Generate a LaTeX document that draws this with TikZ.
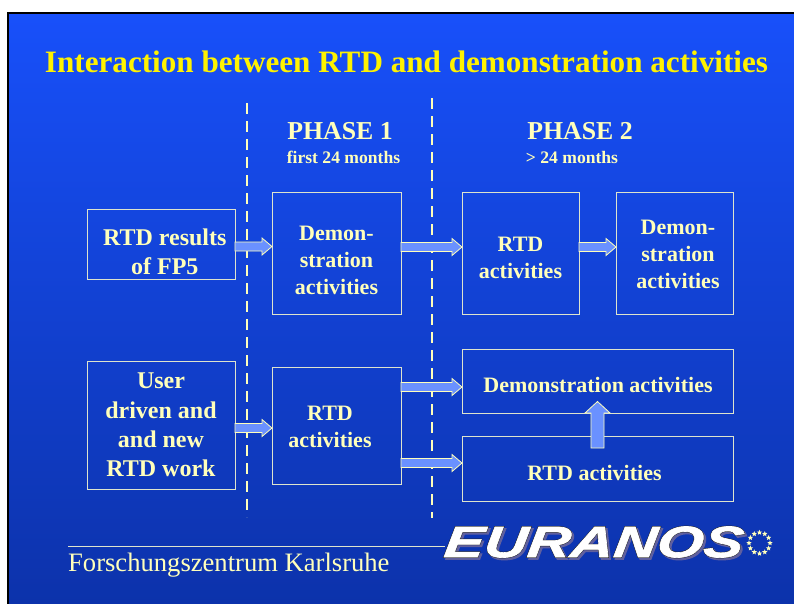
\documentclass[tikz,border=0pt]{standalone}
\usepackage{fontspec}
\setmainfont{Liberation Serif}
\newfontfamily\eurfont[FakeStretch=1.36,FakeSlant=0.12,FakeBold=1.4]{Liberation Sans Bold Italic}
\newfontfamily\eurfontb[FakeStretch=1.36,FakeSlant=0.12,FakeBold=3.6]{Liberation Sans Bold Italic}
\usetikzlibrary{shapes.geometric,calc}
\definecolor{cream}{RGB}{255,255,187}
\definecolor{boxline}{RGB}{222,228,205}
\definecolor{arrowblue}{RGB}{106,145,255}
\definecolor{bgtop}{RGB}{24,80,250}
\definecolor{bgbot}{RGB}{12,50,170}
\tikzset{
  box/.style={draw=boxline,line width=0.9pt,inner sep=0pt,outer sep=0pt,anchor=north west},
  boxtext/.style={text=cream,font=\bfseries\fontsize{22}{27}\selectfont,align=center,inner sep=0pt},
  bigboxtext/.style={boxtext,font=\bfseries\fontsize{24}{29.3}\selectfont},
  barrow/.style={draw=cream,fill=arrowblue,line width=0.8pt,line join=miter},
  dashline/.style={draw=cream,line width=2pt,dash pattern=on 10.5pt off 7.5pt},
}
% horizontal block arrow between the east side of #1 and the west side of #2, at height #3
\newcommand\harrow[3]{\draw[barrow] let \p1=(#1.east), \p2=(#2.west) in
  (\x1,#3+4.5) -- (\x2-10,#3+4.5) -- (\x2-10,#3+8.5) -- (\x2,#3) -- (\x2-10,#3-8.5) -- (\x2-10,#3-4.5) -- (\x1,#3-4.5) -- cycle;}
\newcommand\boxat[5]{\node[box,minimum width=#4pt-#2pt,minimum height=#5pt-#3pt] (#1) at (#2,-#3) {};}
\begin{document}
\begin{tikzpicture}[x=1pt,y=1pt]
\useasboundingbox (0,0) rectangle (794,-603);
\fill[white] (0,0) rectangle (794,-603);
\shade[top color=bgtop,bottom color=bgbot] (8,-13) rectangle (796,-608);
\draw[black,line width=2.4pt] (8,-606) -- (8,-13) -- (796,-13);

\node[text=yellow,font=\bfseries\fontsize{31.15}{36}\selectfont,inner sep=0pt] (title) at (406.5,-62) {Interaction between RTD and demonstration activities};

\coordinate (d1a) at (247,-103); \coordinate (d1b) at (247,-517);
\coordinate (d2a) at (432,-98); \coordinate (d2b) at (432,-518);
\draw[dashline] (d1a) -- (d1b);
\draw[dashline] (d2a) -- (d2b);

\node[text=cream,font=\bfseries\fontsize{25.8}{30}\selectfont,inner sep=0pt] (ph1) at (340,-131) {PHASE 1};
\node[text=cream,font=\bfseries\fontsize{17.6}{20}\selectfont,inner sep=0pt] (ph1s) at (343.5,-157) {first 24 months};
\node[text=cream,font=\bfseries\fontsize{25.8}{30}\selectfont,inner sep=0pt] (ph2) at (580,-131) {PHASE 2};
\node[text=cream,font=\bfseries\fontsize{17.6}{20}\selectfont,inner sep=0pt] (ph2s) at (572,-157) {> 24 months};

\boxat{rtd}{87}{209}{235}{279}
\boxat{user}{87}{361}{235}{489}
\boxat{demoa}{272}{192}{401}{314}
\boxat{rtda}{272}{367}{401}{484}
\boxat{rtdb}{462}{192}{579}{314}
\boxat{demob}{616}{192}{733}{314}
\boxat{demow}{462}{349}{733}{413}
\boxat{rtdw}{462}{436}{733}{501}

\harrow{rtd}{demoa}{-246.5}
\harrow{demoa}{rtdb}{-247}
\harrow{rtdb}{demob}{-247}
\harrow{user}{rtda}{-428}
\harrow{rtda}{demow}{-387}
\harrow{rtda}{rtdw}{-463}
\draw[barrow] (591,-448) -- (591,-413) -- (585,-413) -- (597.5,-401.5) -- (610,-413) -- (604,-413) -- (604,-448) -- cycle;

\node[bigboxtext] (trtd) at (164.8,-252) {RTD results\\of FP5};
\node[bigboxtext] (tuser) at (161,-425) {User\\driven and\\and new\\RTD work};
\node[boxtext] (tdemoa) at (336.5,-260) {Demon-\\stration\\activities};
\node[boxtext] (trtda) at (330,-427) {RTD\\activities};
\node[boxtext] (trtdb) at (520.5,-258) {RTD\\activities};
\node[boxtext] (tdemob) at (678,-254) {Demon-\\stration\\activities};
\node[boxtext] (tdemow) at (598,-385) {Demonstration activities};
\node[boxtext] (trtdw) at (594.5,-473) {RTD activities};

\coordinate (fa) at (68,-546); \coordinate (fb) at (445,-546);
\draw[boxline,line width=1pt] (fa) -- (fb);
\node[text=cream,font=\fontsize{26.6}{30}\selectfont,anchor=base west,inner sep=0pt] (foot) at (68,-571) {Forschungszentrum Karlsruhe};

\node[text=gray!75!blue,font=\eurfontb\fontsize{44}{50}\selectfont,inner sep=0pt] (es) at (594.5,-544) {EURANOS};
\node[text=black!85,font=\eurfontb\fontsize{44}{50}\selectfont,inner sep=0pt] (eb) at (592.5,-542) {EURANOS};
\node[text=white,font=\eurfont\fontsize{44}{50}\selectfont,inner sep=0pt] (ew) at (592.5,-542) {EURANOS};

\foreach \a in {0,30,...,330}
  \node[star,star points=5,star point ratio=2.2,fill=cream,inner sep=0pt,minimum size=5.5pt] at ($(759.5,-543)+(\a:10.5)$) {};
\end{tikzpicture}
\end{document}
